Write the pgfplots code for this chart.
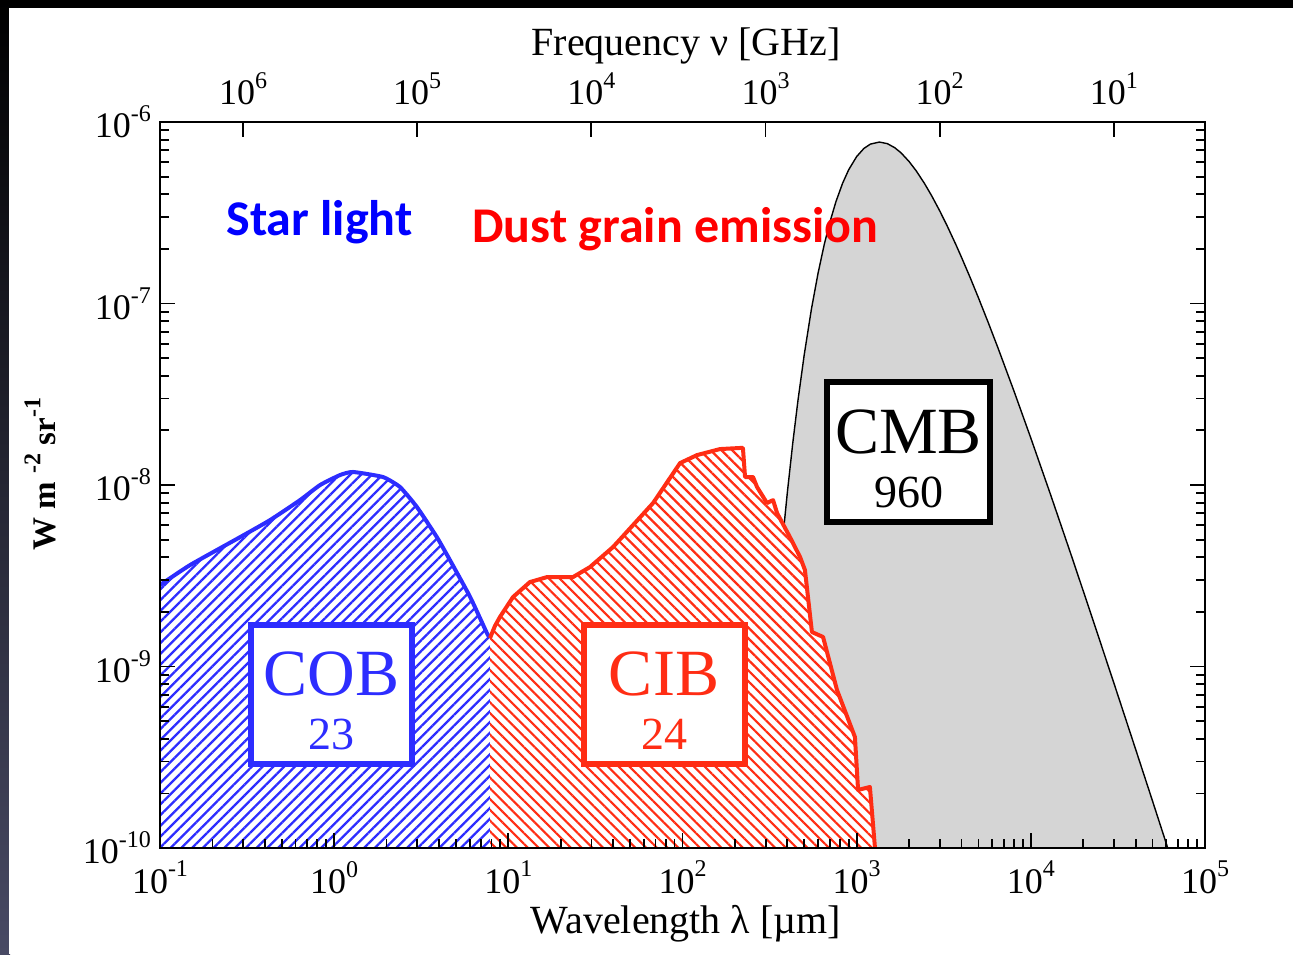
\documentclass[border=0pt]{standalone}
\usepackage{pgfplots}
\pgfplotsset{compat=1.18}
\usepackage{fontspec}
\setmainfont{Liberation Serif}
\newfontfamily\calib{Carlito}
\usetikzlibrary{patterns.meta}

\definecolor{cobblue}{RGB}{45,45,255}
\definecolor{cibred}{RGB}{255,45,20}
\definecolor{cmbgray}{RGB}{213,213,213}
\definecolor{slidebg}{RGB}{72,74,100}

% exponent for tick labels set in the text font
\newcommand{\ex}[1]{\raisebox{0.45em}{\fontsize{12}{12}\selectfont #1}}

% CMB spectrum (nu I_nu, T = 2.725 K)
\pgfplotstableread{
lambda   I
275      1.01e-10
290      2.21e-10
310      5.48e-10
330      1.196e-9
350      2.36e-9
375      4.90e-9
400      9.12e-9
430      1.715e-8
460      2.917e-8
500      5.23e-8
550      9.34e-8
600      1.467e-7
650      2.096e-7
700      2.785e-7
760      3.638e-7
830      4.598e-7
900      5.461e-7
1000     6.455e-7
1100     7.149e-7
1200     7.561e-7
1350     7.756e-7
1500     7.602e-7
1650     7.232e-7
1800     6.758e-7
2000     6.058e-7
2200     5.374e-7
2450     4.589e-7
2700     3.912e-7
3000     3.236e-7
3300     2.691e-7
3700     2.126e-7
4000     1.796e-7
4500     1.378e-7
5000     1.076e-7
5700     7.835e-8
6500     5.64e-8
8000     3.295e-8
10000    1.813e-8
13000    8.815e-9
17000    4.147e-9
22000    1.985e-9
30000    8.09e-10
40000    3.49e-10
50000    1.812e-10
61100    1.0e-10
}\cmbdata

% COB (cosmic optical background)
\pgfplotstableread{
lambda   I
0.1      2.81e-9
0.1486   3.62e-9
0.288    5.16e-9
0.4285   6.41e-9
0.637    8.26e-9
0.830    1.0e-8
1.081    1.135e-8
1.282    1.18e-8
1.905    1.107e-8
2.388    9.75e-9
2.985    7.57e-9
3.89     5.16e-9
4.62     3.86e-9
6.03     2.42e-9
7.53     1.53e-9
7.85     1.44e-9
}\cobdata

% CIB (cosmic infrared background)
\pgfplotstableread{
lambda   I
7.85     1.435e-9
8.37     1.67e-9
8.95     1.875e-9
10.64    2.415e-9
13.30    2.92e-9
16.67    3.11e-9
23.5     3.11e-9
29.4     3.53e-9
39.9     4.55e-9
67.8     7.96e-9
96.8     1.321e-8
121.1    1.462e-8
164.1    1.578e-8
213.8    1.60e-8
222.3    1.60e-8
228.6    1.107e-8
254.1    1.107e-8
267.9    9.75e-9
305.5    7.96e-9
331.1    8.26e-9
349.1    7.01e-9
414.0    5.16e-9
473.2    4.01e-9
504.7    3.40e-9
553.4    1.549e-9
641.2    1.455e-9
770.9    7.43e-10
977.2    4.09e-10
1018.6   2.09e-10
1191     2.17e-10
1274     1e-10
}\cibdata

\begin{document}
\begin{tikzpicture}[x=1pt,y=1pt]
% slide background
\fill[black] (0,0) rectangle (646.5,477);
\shade[top color=black, bottom color=slidebg] (0,0) rectangle (5,477);
\fill[white] (4.5,0) rectangle (646.5,473);

\begin{axis}[
  at={(80pt,53pt)}, anchor=south west,
  scale only axis, width=522.5pt, height=363pt,
  xmode=log, ymode=log,
  xmin=0.1, xmax=1e5, ymin=1e-10, ymax=1e-6,
  axis on top,
  axis line style={line width=0.9pt},
  every tick/.style={black, line width=0.9pt},
  major tick length=7.5pt, minor tick length=4.5pt,
  tick align=inside,
  xtick pos=left, ytick pos=both, yticklabel pos=left,
  xtick={0.1,1,10,100,1000,10000,100000},
  xticklabels={10\ex{-1},10\ex{0},10\ex{1},10\ex{2},10\ex{3},10\ex{4},10\ex{5}},
  minor xtick={0.2,0.3,0.4,0.5,0.6,0.7,0.8,0.9,2,3,4,5,6,7,8,9,20,30,40,50,60,70,80,90,200,300,400,500,600,700,800,900,2000,3000,4000,5000,6000,7000,8000,9000,20000,30000,40000,50000,60000,70000,80000,90000},
  ytick={1e-10,1e-9,1e-8,1e-7,1e-6},
  yticklabels={10\ex{-10},10\ex{-9},10\ex{-8},10\ex{-7},10\ex{-6}},
  minor ytick={2e-10,3e-10,4e-10,5e-10,6e-10,7e-10,8e-10,9e-10,2e-9,3e-9,4e-9,5e-9,6e-9,7e-9,8e-9,9e-9,2e-8,3e-8,4e-8,5e-8,6e-8,7e-8,8e-8,9e-8,2e-7,3e-7,4e-7,5e-7,6e-7,7e-7,8e-7,9e-7},
  ticklabel style={font=\fontsize{18}{18}\selectfont},
  xticklabel style={yshift=-3pt},
  yticklabel style={xshift=-1pt},
]

% CMB
\addplot[draw=none, fill=cmbgray] table[x=lambda,y=I] {\cmbdata} -- cycle;
\addplot[black, line width=0.7pt, line join=round] table[x=lambda,y=I] {\cmbdata};

% COB and CIB hatched areas, closed down to the bottom of the axis
\addplot[draw=none, preaction={fill=white},
  pattern={Lines[angle=45,distance=3.8pt,line width=1.1pt]}, pattern color=cobblue]
  table[x=lambda,y=I] {\cobdata} -- (axis cs:7.85,1e-10) -- (axis cs:0.1,1e-10) -- cycle;
\addplot[draw=none, preaction={fill=white},
  pattern={Lines[angle=-45,distance=3.8pt,line width=1.1pt]}, pattern color=cibred]
  table[x=lambda,y=I] {\cibdata} -- (axis cs:7.85,1e-10) -- cycle;

\addplot[cobblue, line width=2pt, smooth, tension=0.3] table[x=lambda,y=I] {\cobdata};
\addplot[cibred, line width=2pt, line join=round] table[x=lambda,y=I] {\cibdata};

% labelled boxes
\node[draw=cobblue, line width=3pt, fill=white, minimum width=80.5pt, minimum height=69.5pt, inner sep=0pt]
  at (rel axis cs:0.1641,0.2108) {};
\node[text=cobblue, font=\fontsize{33}{33}\selectfont, inner sep=0pt] at (rel axis cs:0.1641,0.2404) {COB};
\node[text=cobblue, font=\fontsize{23}{23}\selectfont, inner sep=0pt] at (rel axis cs:0.1641,0.157) {23};

\node[draw=cibred, line width=3pt, fill=white, minimum width=80.5pt, minimum height=69.5pt, inner sep=0pt]
  at (rel axis cs:0.4823,0.2108) {};
\node[text=cibred, font=\fontsize{33}{33}\selectfont, inner sep=0pt] at (rel axis cs:0.4823,0.2404) {CIB};
\node[text=cibred, font=\fontsize{23}{23}\selectfont, inner sep=0pt] at (rel axis cs:0.4823,0.157) {24};

\node[draw=black, line width=3pt, fill=white, minimum width=81.5pt, minimum height=70pt, inner sep=0pt]
  at (rel axis cs:0.7163,0.5455) {};
\node[text=black, font=\fontsize{33}{33}\selectfont, inner sep=0pt] at (rel axis cs:0.7163,0.5735) {CMB};
\node[text=black, font=\fontsize{23}{23}\selectfont, inner sep=0pt] at (rel axis cs:0.7163,0.4904) {960};
\end{axis}

% frequency scale along the top
\begin{axis}[
  at={(80pt,53pt)}, anchor=south west,
  scale only axis, width=522.5pt, height=363pt,
  xmode=log, x dir=reverse,
  xmin=2.99792458, xmax=2997924.58, ymin=0, ymax=1,
  axis line style={line width=0.9pt},
  every tick/.style={black, line width=0.9pt},
  major tick length=7.5pt, tick align=inside,
  xtick pos=right, xticklabel pos=right,
  xminorticks=false, ytick=\empty,
  xtick={10,100,1000,10000,100000,1000000},
  xticklabels={10\ex{1},10\ex{2},10\ex{3},10\ex{4},10\ex{5},10\ex{6}},
  ticklabel style={font=\fontsize{18}{18}\selectfont},
  xticklabel style={yshift=5pt},
]
\end{axis}

% titles
\node[font=\fontsize{20}{20}\selectfont] at (343pt,454pt) {Frequency ν [GHz]};
\node[font=\fontsize{20}{20}\selectfont] at (343pt,15pt) {Wavelength λ [µm]};
\node[rotate=90, font=\bfseries\fontsize{16.5}{16.5}\selectfont] at (20pt,240pt) {W m \ex{-2} sr\ex{-1}};
\node[anchor=base west, inner sep=0pt, text=blue, font=\calib\bfseries\fontsize{25}{25}\selectfont] at (113pt,359pt) {Star light};
\node[anchor=base west, inner sep=0pt, text=red, font=\calib\bfseries\fontsize{25}{25}\selectfont] at (236pt,355.5pt) {Dust grain emission};
\end{tikzpicture}
\end{document}
